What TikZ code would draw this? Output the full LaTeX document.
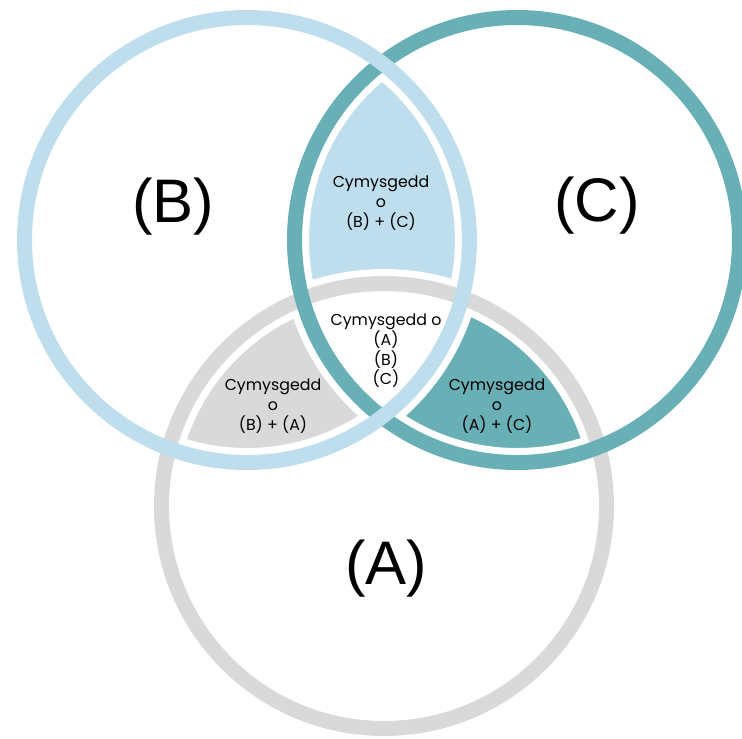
\documentclass[tikz,border=0pt]{standalone}
\usepackage{fontspec}
\setmainfont{Liberation Sans}
\newfontfamily\mixfont{Poppins}
\usepackage{tikz}
\definecolor{ringA}{RGB}{217,217,217}
\definecolor{ringB}{RGB}{191,222,237}
\definecolor{ringC}{RGB}{104,176,182}

\begin{document}
\begin{tikzpicture}[
    halo/.style={draw=white, line width=2.9mm},
    ringline/.style={line width=1.5mm},
    biglabel/.style={font=\fontsize{17.5}{20}\selectfont},
    mixlabel/.style={align=center, font=\mixfont\fontsize{4.5}{5.6}\selectfont}
  ]
    \useasboundingbox (0,0) rectangle (7.42,-7.38);
    \def\rad{2.225}
    \coordinate (cA) at (3.84,-5.06);
    \coordinate (cB) at (2.47,-2.40);
    \coordinate (cC) at (5.17,-2.40);

    % shaded overlaps
    \begin{scope}
        \clip (cB) circle (\rad);
        \fill[ringB] (cC) circle (\rad);
    \end{scope}
    \begin{scope}
        \clip (cA) circle (\rad);
        \fill[ringA] (cB) circle (\rad);
    \end{scope}
    \begin{scope}
        \clip (cA) circle (\rad);
        \fill[ringC] (cC) circle (\rad);
    \end{scope}
    \begin{scope}
        \clip (cA) circle (\rad);
        \clip (cB) circle (\rad);
        \fill[white] (cC) circle (\rad);
    \end{scope}

    % white gaps round the shaded parts, then the rings
    \foreach \c in {cA,cB,cC}
        \draw[halo] (\c) circle (\rad);
    \draw[ringline, ringA] (cA) circle (\rad);
    \draw[ringline, ringC] (cC) circle (\rad);
    \draw[ringline, ringB] (cB) circle (\rad);

    \node[biglabel] (labB) at (1.73,-2.07) {(B)};
    \node[biglabel] (labC) at (5.97,-2.06) {(C)};
    \node[biglabel] (labA) at (3.86,-5.69) {(A)};

    \node[mixlabel] (mixBC) at (3.81,-2.03) {Cymysgedd\\o\\(B) + (C)};
    \node[mixlabel] (mixABC) at (3.86,-3.51) {Cymysgedd o\\(A)\\(B)\\(C)};
    \node[mixlabel] (mixAB) at (2.73,-4.06) {Cymysgedd\\o\\(B) + (A)};
    \node[mixlabel] (mixAC) at (4.97,-4.06) {Cymysgedd\\o\\(A) + (C)};
\end{tikzpicture}
\end{document}
